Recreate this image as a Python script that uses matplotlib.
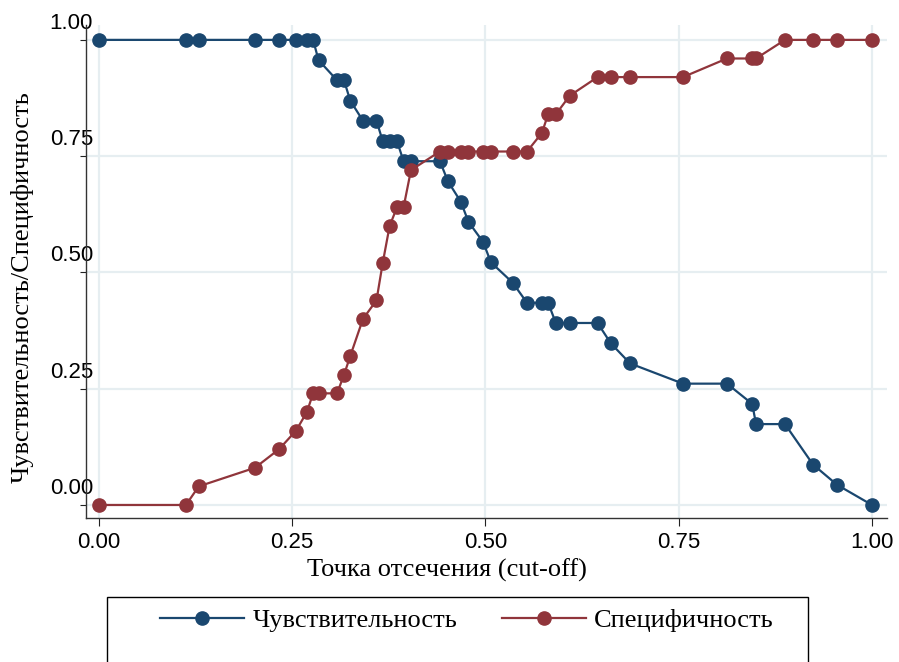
import numpy as np
import matplotlib
matplotlib.use("Agg")
import matplotlib.pyplot as plt
from matplotlib.patches import Rectangle
from matplotlib.transforms import ScaledTranslation

# cut-off points (shared by both curves)
cutoff = [0.000, 0.1125, 0.129, 0.2018, 0.233, 0.255, 0.269, 0.277, 0.284,
          0.308, 0.317, 0.325, 0.3415, 0.359, 0.367, 0.376, 0.3855, 0.394,
          0.4036, 0.441, 0.4515, 0.468, 0.478, 0.497, 0.507, 0.535, 0.5537,
          0.573, 0.581, 0.591, 0.609, 0.645, 0.662, 0.687, 0.7555, 0.8124,
          0.845, 0.850, 0.8874, 0.9237, 0.9547, 1.000]

# sensitivity: 23 positives
sens_k = [23, 23, 23, 23, 23, 23, 23, 23, 22, 21, 21, 20, 19, 19, 18, 18, 18,
          17, 17, 17, 16, 15, 14, 13, 12, 11, 10, 10, 10, 9, 9, 9, 8, 7, 6, 6,
          5, 4, 4, 2, 1, 0]
# specificity: 25 negatives
spec_k = [0, 0, 1, 2, 3, 4, 5, 6, 6, 6, 7, 8, 10, 11, 13, 15, 16, 16, 18, 19,
          19, 19, 19, 19, 19, 19, 19, 20, 21, 21, 22, 23, 23, 23, 23, 24, 24,
          24, 25, 25, 25, 25]

sens = np.array(sens_k) / 23.0
spec = np.array(spec_k) / 25.0

xticks = [0.0, 0.25, 0.5, 0.75, 1.0]
yticks = [0.0, 0.25, 0.5, 0.75, 1.0]

navy = "#1a476f"
maroon = "#90353b"
serif = ["Liberation Serif", "DejaVu Serif"]

fig = plt.figure(figsize=(8.99, 6.62), dpi=100)
ax = fig.add_axes([86/899, 1-518/662, 801/899, 493/662])

l1, = ax.plot(cutoff, sens, color=navy, lw=1.6, marker="o", ms=9.5,
              label="Чувствительность")
l2, = ax.plot(cutoff, spec, color=maroon, lw=1.6, marker="o", ms=9.5,
              label="Специфичность")

ax.set_xlim(-0.0168, 1.0194)
ax.set_ylim(-0.028, 1.032)
ax.set_xticks(xticks)
ax.set_yticks(yticks)
ax.set_xticklabels(["%.2f" % v for v in xticks])
ax.set_yticklabels(["%.2f" % v for v in yticks])
ax.grid(True, color="#e6eef1", lw=1.6)
ax.set_axisbelow(True)
for s in ["top", "right"]:
    ax.spines[s].set_visible(False)
for s in ["left", "bottom"]:
    ax.spines[s].set_color("#333333")
    ax.spines[s].set_linewidth(1.0)

ax.tick_params(axis="x", length=6, width=0.8, pad=4, labelsize=16,
               colors="#222222")
ax.tick_params(axis="y", length=4.5, width=0.8, pad=-9.5, labelsize=16,
               colors="#222222")
for lab in ax.get_xticklabels() + ax.get_yticklabels():
    lab.set_family(["Liberation Sans", "DejaVu Sans"])
    lab.set_color("black")
off = ScaledTranslation(0, 19/100, fig.dpi_scale_trans)
for lab in ax.get_yticklabels():
    lab.set_transform(lab.get_transform() + off)

fig.text(447/899, 1-570/662, "Точка отсечения (cut-off)", ha="center",
         va="center", fontsize=19, family=serif)
fig.text(22/899, 1-287/662, "Чувствительность/Специфичность", ha="center",
         va="center", rotation=90, fontsize=19, family=serif)

# legend box, cut off at the bottom like the original
fig.patches.append(Rectangle((107/899, -0.05), (808-107)/899, 0.05 + 1-597/662,
                             transform=fig.transFigure, fill=False,
                             edgecolor="black", lw=1.0))
fig.legend(handles=[l1, l2], loc="center left",
           bbox_to_anchor=(160/899, 1-620/662), ncol=2, frameon=False,
           prop={"family": serif, "size": 19}, handlelength=3.2,
           handletextpad=0.3, columnspacing=1.7, borderpad=0,
           borderaxespad=0)

fig.savefig("out.png", dpi=100)
